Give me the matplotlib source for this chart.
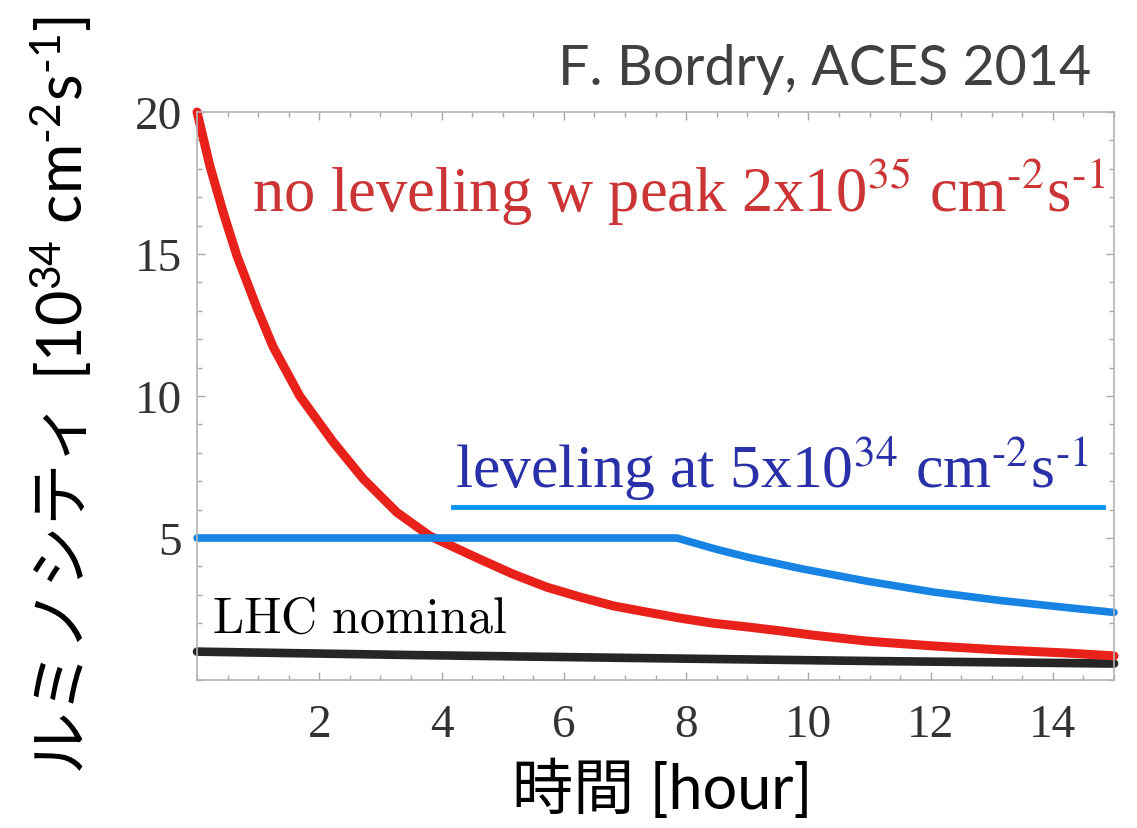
import numpy as np
import matplotlib.pyplot as plt
from matplotlib.ticker import MultipleLocator

# luminosity vs time, three scenarios
t_peak = [0, 0.21, 0.43, 0.65, 0.98, 1.24, 1.68, 2.22, 2.72, 3.27, 3.81, 4.63, 5.17,
          5.72, 6.27, 6.81, 7.36, 7.9, 8.44, 9.0, 9.54, 10.08, 10.96, 12.04, 13.14,
          14.23, 15.0]
L_peak = [20.0, 18.1, 16.45, 14.95, 13.1, 11.75, 10.0, 8.4, 7.08, 5.9, 5.07, 4.25, 3.73,
          3.27, 2.92, 2.61, 2.39, 2.18, 2.0, 1.87, 1.73, 1.58, 1.37, 1.2, 1.06,
          0.95, 0.85]

t_lev = [0, 7.85, 8.5, 9.0, 9.86, 10.96, 12.04, 13.14, 14.23, 15.0]
L_lev = [5.0, 5.0, 4.6, 4.33, 3.93, 3.48, 3.1, 2.8, 2.55, 2.38]

t_nom = [0, 3.5, 7.0, 11.0, 15.0]
L_nom = [1.0, 0.88, 0.78, 0.67, 0.58]

xticks = [2, 4, 6, 8, 10, 12, 14]
yticks = [5, 10, 15, 20]

plt.rcParams['font.family'] = 'Liberation Serif'
plt.rcParams['mathtext.fontset'] = 'custom'
plt.rcParams['mathtext.rm'] = 'Lato'
plt.rcParams['mathtext.it'] = 'Lato:italic'
plt.rcParams['mathtext.bf'] = 'Lato:bold'

fig = plt.figure(figsize=(11.37, 8.29), dpi=100)
ax = fig.add_axes([0.1733, 0.1785, 0.8065, 0.6852])

ax.plot(t_nom, L_nom, color='#262626', lw=6.2, solid_capstyle='round', clip_on=False)
ax.plot(t_peak, L_peak, color='#e8221a', lw=6.5, solid_capstyle='round',
        solid_joinstyle='round', clip_on=False)
ax.plot(t_lev, L_lev, color='#1783e3', lw=5.5, solid_capstyle='round', clip_on=False)

ax.set_xlim(0, 15)
ax.set_ylim(0, 20)
ax.set_xticks(xticks)
ax.set_yticks(yticks)
ax.xaxis.set_minor_locator(MultipleLocator(0.5))
ax.yaxis.set_minor_locator(MultipleLocator(1))
ax.tick_params(which='both', direction='in', top=True, right=True, color='#a8a8a8',
               width=1.0)
ax.tick_params(which='major', length=6)
ax.tick_params(which='minor', length=3.5)
ax.tick_params(axis='x', labelsize=34, labelcolor='#333333', pad=17)
ax.tick_params(axis='y', labelsize=34, labelcolor='#333333', pad=11)
for sp in ax.spines.values():
    sp.set_color('#b5b5b5')
    sp.set_linewidth(1.2)

# curve labels
ax.text(0.9, 16.5, r'no leveling w peak 2x10$^{35}$ cm$^{‐2}$s$^{‐1}$', color='#cc3535',
        fontsize=45, va='baseline', ha='left', math_fontfamily='stix')
ax.text(4.22, 6.8, r'leveling at 5x10$^{34}$ cm$^{‐2}$s$^{‐1}$', color='#2a31a8',
        fontsize=44.5, va='baseline', ha='left', math_fontfamily='stix')
ax.plot([4.18, 14.82], [6.09, 6.09], color='#0a94f2', lw=3.5)
ax.text(0.25, 1.69, r'$\mathrm{LHC\ nominal}$', color='black', fontsize=36,
        va='baseline', ha='left', math_fontfamily='cm')

fig.text(0.960, 0.897, 'F. Bordry, ACES 2014', family='Lato', fontsize=40,
         color='#404040', ha='right', va='baseline')

# y label: japanese part, then the unit stacked above it
yl1 = fig.text(0.053, 0.071, 'ルミノシティ', family='Noto Sans CJK JP', fontsize=45,
               rotation=90, ha='center', va='bottom')
fig.canvas.draw()
top = yl1.get_window_extent().y1 / fig.bbox.height
fig.text(0.053, top + 0.018, r'[10$^{34}$ cm$^{‐2}$s$^{‐1}$]', family='Lato',
         fontsize=44, rotation=90, ha='center', va='bottom', math_fontfamily='custom')

fig.text(0.582, 0.047, '時間 [hour]', family=['Lato', 'Noto Sans CJK JP'],
         fontsize=44, ha='center', va='center')

fig.savefig('out.png', dpi=100)
